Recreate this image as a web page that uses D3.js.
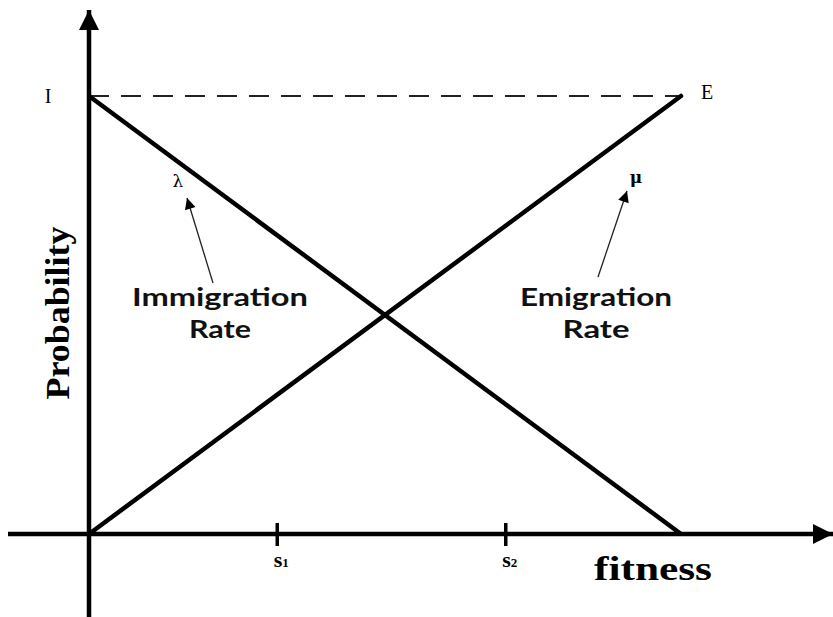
<!DOCTYPE html>
<html>
<head>
<meta charset="utf-8">
<script src="https://cdn.jsdelivr.net/npm/d3@7"></script>
<style>
  body { margin: 0; background: #fff; }
  svg { display: block; }
</style>
</head>
<body>
<svg></svg>
<script>
// fitness goes 0..1, probability 0..1 (I = E = 1)
const fitness = [0, 1];
const immigration = [1, 0];
const emigration = [0, 1];
const tickPos = [0.318, 0.704];
const tickLabels = ["1", "2"];

const width = 833;
const height = 617;

const svg = d3.select("svg").attr("width", width).attr("height", height);

const x = d3.scaleLinear().domain([0, 1]).range([89, 681]);
const y = d3.scaleLinear().domain([0, 1]).range([534, 96]);

// arrow heads
const defs = svg.append("defs");
defs
  .append("marker")
  .attr("id", "big")
  .attr("viewBox", "0 0 10 10")
  .attr("refX", 10)
  .attr("refY", 5)
  .attr("markerUnits", "userSpaceOnUse")
  .attr("markerWidth", 22)
  .attr("markerHeight", 20)
  .attr("orient", "auto")
  .append("path")
  .attr("d", "M0,0L10,5L0,10Z")
  .style("fill", "#000");
defs
  .append("marker")
  .attr("id", "small")
  .attr("viewBox", "0 0 10 10")
  .attr("refX", 10)
  .attr("refY", 5)
  .attr("markerUnits", "userSpaceOnUse")
  .attr("markerWidth", 14)
  .attr("markerHeight", 11)
  .attr("orient", "auto")
  .append("path")
  .attr("d", "M0,0L10,5L0,10Z")
  .style("fill", "#000");

// axes
svg
  .append("line")
  .attr("x1", 8)
  .attr("y1", y(0))
  .attr("x2", 833)
  .attr("y2", y(0))
  .style("stroke", "#000")
  .style("stroke-width", 4.5)
  .attr("marker-end", "url(#big)");
svg
  .append("line")
  .attr("x1", x(0))
  .attr("y1", 617)
  .attr("x2", x(0))
  .attr("y2", 10)
  .style("stroke", "#000")
  .style("stroke-width", 4.5)
  .attr("marker-end", "url(#big)");

// dashed line at I / E
svg
  .append("line")
  .attr("x1", x(0))
  .attr("y1", y(1))
  .attr("x2", x(1))
  .attr("y2", y(1))
  .style("stroke", "#222")
  .style("stroke-width", 2)
  .style("stroke-dasharray", "20,12");

// rate lines
const line = d3
  .line()
  .x((d) => x(d[0]))
  .y((d) => y(d[1]));

svg
  .append("path")
  .attr("d", line(d3.zip(fitness, immigration)))
  .style("fill", "none")
  .style("stroke", "#000")
  .style("stroke-width", 4.5);
svg
  .append("path")
  .attr("d", line(d3.zip(fitness, emigration)))
  .style("fill", "none")
  .style("stroke", "#000")
  .style("stroke-width", 4.5)
  .style("stroke-linecap", "round");

// ticks s1, s2
svg
  .selectAll(".tick")
  .data(tickPos)
  .enter()
  .append("line")
  .attr("x1", (d) => x(d))
  .attr("x2", (d) => x(d))
  .attr("y1", y(0) - 11)
  .attr("y2", y(0) + 12)
  .style("stroke", "#000")
  .style("stroke-width", 3.5);

const tl = svg
  .selectAll(".tl")
  .data(tickPos)
  .enter()
  .append("text")
  .attr("x", (d) => x(d) + 4)
  .attr("y", y(0) + 33)
  .attr("text-anchor", "middle")
  .style("font-family", "Liberation Serif")
  .style("font-weight", 700)
  .style("font-size", "22px");
tl.append("tspan").text("s");
tl.append("tspan")
  .style("font-size", "13px")
  .text((d, i) => tickLabels[i]);

// I and E
svg
  .append("text")
  .attr("x", 48)
  .attr("y", y(1) + 7)
  .attr("text-anchor", "middle")
  .style("font-family", "Liberation Serif")
  .style("font-size", "20px")
  .text("I");
svg
  .append("text")
  .attr("x", 707)
  .attr("y", y(1) + 3)
  .attr("text-anchor", "middle")
  .style("font-family", "Liberation Serif")
  .style("font-size", "20px")
  .text("E");

// axis titles
svg
  .append("text")
  .attr("x", 653)
  .attr("y", 580)
  .attr("text-anchor", "middle")
  .attr("textLength", 118)
  .attr("lengthAdjust", "spacingAndGlyphs")
  .style("font-family", "Liberation Serif")
  .style("font-weight", 700)
  .style("font-size", "33px")
  .text("fitness");
svg
  .append("text")
  .attr("transform", "translate(69,313) rotate(-90)")
  .attr("text-anchor", "middle")
  .attr("textLength", 173)
  .attr("lengthAdjust", "spacingAndGlyphs")
  .style("font-family", "Liberation Serif")
  .style("font-weight", 700)
  .style("font-size", "34px")
  .text("Probability");

// lambda / mu with pointer arrows
svg
  .append("text")
  .attr("x", 178)
  .attr("y", 187)
  .attr("text-anchor", "middle")
  .style("font-family", "DejaVu Serif")
  .style("font-size", "17px")
  .text("λ");
svg
  .append("text")
  .attr("x", 636)
  .attr("y", 183)
  .attr("text-anchor", "middle")
  .style("font-family", "DejaVu Serif")
  .style("font-weight", 700)
  .style("font-size", "17px")
  .text("μ");

svg
  .append("line")
  .attr("x1", 213)
  .attr("y1", 283)
  .attr("x2", 187)
  .attr("y2", 198)
  .style("stroke", "#222")
  .style("stroke-width", 1.3)
  .attr("marker-end", "url(#small)");
svg
  .append("line")
  .attr("x1", 598)
  .attr("y1", 277)
  .attr("x2", 627)
  .attr("y2", 191)
  .style("stroke", "#222")
  .style("stroke-width", 1.3)
  .attr("marker-end", "url(#small)");

// rate labels
const rates = [
  { x: 220, lines: ["Immigration", "Rate"], w: [176, 62] },
  { x: 596, lines: ["Emigration", "Rate"], w: [152, 67] },
];
rates.forEach((r) => {
  r.lines.forEach((t, i) => {
    svg
      .append("text")
      .attr("x", r.x)
      .attr("y", 306 + i * 32)
      .attr("text-anchor", "middle")
      .attr("textLength", r.w[i])
      .attr("lengthAdjust", "spacingAndGlyphs")
      .style("font-family", "Lato")
      .style("font-weight", 700)
      .style("font-size", "24px")
      .style("fill", "#111")
      .text(t);
  });
});
</script>
</body>
</html>
